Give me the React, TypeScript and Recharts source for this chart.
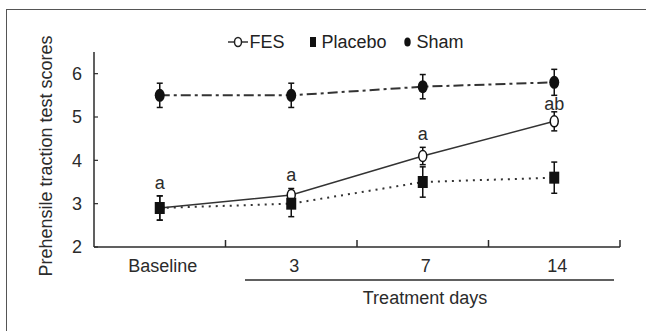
import React from "react";
import {
  LineChart,
  Line,
  XAxis,
  YAxis,
  ErrorBar,
  Legend,
  LabelList,
} from "recharts";

const days = ["Baseline", "3", "7", "14"];
const fes = [2.9, 3.2, 4.1, 4.9];
const fesErr = [0.28, 0.15, 0.2, 0.22];
const placebo = [2.9, 3.0, 3.5, 3.6];
const placeboErr = [0.28, 0.3, 0.35, 0.36];
const sham = [5.5, 5.5, 5.7, 5.8];
const shamErr = [0.28, 0.28, 0.28, 0.3];
const sig = ["a", "a", "a", "ab"];
const sigY = [3.49, 3.68, 4.62, 5.31];
const yTicks = [2, 3, 4, 5, 6];

const data = days.map((d, i) => ({
  x: i,
  day: d,
  fes: fes[i],
  fesErr: fesErr[i],
  placebo: placebo[i],
  placeboErr: placeboErr[i],
  sham: sham[i],
  shamErr: shamErr[i],
  sig: sig[i],
  sigY: sigY[i],
}));

const FONT = "'Liberation Sans', Arial, sans-serif";
const INK = "#2b2b2b";
const FS = 18;

// x ticks: integers get the day label, halves get a small upward tick mark
function XTick(props: any) {
  const { x, y, payload } = props;
  const v = payload.value;
  if (Number.isInteger(v)) {
    return (
      <text x={x + 3} y={y} dy="0.71em" textAnchor="middle" fontSize={FS} fontFamily={FONT} fill={INK}>
        {days[v]}
      </text>
    );
  }
  const axisY = y - 12;
  return <line x1={x} x2={x} y1={axisY} y2={axisY - 7} stroke={INK} strokeWidth={1.5} />;
}

function FesDot(props: any) {
  const { cx, cy } = props;
  if (cx == null || cy == null) return null;
  return <ellipse cx={cx} cy={cy} rx={4} ry={5.5} fill="#fff" stroke="#111" strokeWidth={1.5} />;
}

function PlaceboDot(props: any) {
  const { cx, cy } = props;
  if (cx == null || cy == null) return null;
  return <rect x={cx - 5} y={cy - 6} width={10} height={12} fill="#111" />;
}

function ShamDot(props: any) {
  const { cx, cy } = props;
  if (cx == null || cy == null) return null;
  return <ellipse cx={cx} cy={cy} rx={5} ry={6.5} fill="#111" />;
}

function LegendBox() {
  const text = { fontSize: FS, fontFamily: FONT, color: "#222" };
  return (
    <div
      style={{
        height: 20,
        display: "flex",
        justifyContent: "center",
        alignItems: "center",
        paddingLeft: 46,
      }}
    >
      <svg width={20} height={12} style={{ marginRight: 1 }}>
        <line x1={0} x2={20} y1={6} y2={6} stroke="#333" strokeWidth={1.5} />
        <ellipse cx={10} cy={6} rx={3.5} ry={4.5} fill="#fff" stroke="#222" strokeWidth={1.5} />
      </svg>
      <span style={text}>FES</span>
      <svg width={6} height={12} style={{ marginLeft: 26, marginRight: 5 }}>
        <rect x={0} y={1} width={6} height={10} fill="#111" />
      </svg>
      <span style={text}>Placebo</span>
      <svg width={7} height={12} style={{ marginLeft: 17, marginRight: 6 }}>
        <ellipse cx={3.5} cy={6} rx={3.2} ry={4.5} fill="#111" />
      </svg>
      <span style={text}>Sham</span>
    </div>
  );
}

export default function App() {
  return (
    <div
      style={{
        position: "absolute",
        left: 0,
        top: 0,
        width: 646,
        height: 331,
        overflow: "hidden",
        background: "#fff",
      }}
    >
      <div
        style={{
          position: "absolute",
          left: 6,
          top: 9,
          width: 700,
          height: 400,
          border: "1px solid #555",
        }}
      />
      <LineChart
        width={646}
        height={331}
        data={data}
        margin={{ top: 32, right: 26, bottom: 54, left: 34 }}
      >
        <Legend
          verticalAlign="top"
          content={() => <LegendBox />}
          wrapperStyle={{ left: 0, width: 646 }}
        />
        <XAxis
          dataKey="x"
          type="number"
          domain={[-0.5, 3.5]}
          ticks={[0, 0.5, 1, 1.5, 2, 2.5, 3, 3.5]}
          interval={0}
          height={30}
          tickLine={false}
          tickSize={6}
          tickMargin={6}
          tick={<XTick />}
          axisLine={{ stroke: INK, strokeWidth: 1.5 }}
        />
        <YAxis
          type="number"
          domain={[2, 6.5]}
          ticks={yTicks}
          interval={0}
          width={60}
          tickSize={-4}
          tickMargin={16}
          tickLine={{ stroke: INK, strokeWidth: 1.2 }}
          axisLine={{ stroke: INK, strokeWidth: 1.5 }}
          tick={{ fontSize: FS, fontFamily: FONT, fill: INK }}
          label={{
            content: () => (
              <text
                transform="translate(46,156) rotate(-90)"
                textAnchor="middle"
                dominantBaseline="central"
                fontSize={FS}
                fontFamily={FONT}
                fill={INK}
              >
                Prehensile traction test scores
              </text>
            ),
          }}
        />
        <Line
          dataKey="fes"
          stroke="#333"
          strokeWidth={1.5}
          dot={<FesDot />}
          activeDot={false}
          isAnimationActive={false}
        >
          <ErrorBar dataKey="fesErr" direction="y" width={3} stroke="#111" strokeWidth={1.5} />
        </Line>
        <Line
          dataKey="placebo"
          stroke="#333"
          strokeWidth={2}
          strokeDasharray="2 5"
          dot={<PlaceboDot />}
          activeDot={false}
          isAnimationActive={false}
        >
          <ErrorBar dataKey="placeboErr" direction="y" width={3} stroke="#111" strokeWidth={1.5} />
        </Line>
        <Line
          dataKey="sham"
          stroke="#333"
          strokeWidth={2}
          strokeDasharray="10 4 3 4"
          dot={<ShamDot />}
          activeDot={false}
          isAnimationActive={false}
        >
          <ErrorBar dataKey="shamErr" direction="y" width={3} stroke="#111" strokeWidth={1.5} />
        </Line>
        <Line
          dataKey="sigY"
          stroke="none"
          dot={false}
          activeDot={false}
          isAnimationActive={false}
        >
          <LabelList
            dataKey="sig"
            position="center"
            fontSize={FS}
            fontFamily={FONT}
            fill={INK}
          />
        </Line>
        <line x1={245} x2={614} y1={280} y2={280} stroke={INK} strokeWidth={1.3} />
        <text x={425} y={298} textAnchor="middle" dominantBaseline="central" fontSize={FS} fontFamily={FONT} fill={INK}>
          Treatment days
        </text>
      </LineChart>
    </div>
  );
}
